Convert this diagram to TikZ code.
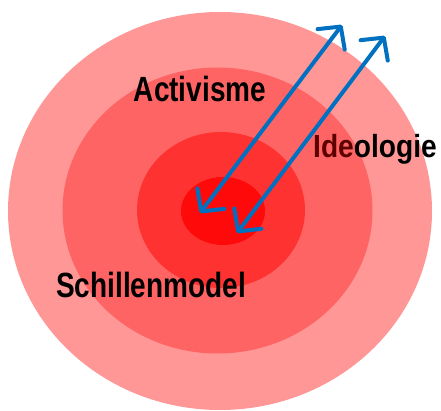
\documentclass[tikz,border=0pt]{standalone}
\usepackage{fontspec}
\setmainfont{Liberation Sans}
\usetikzlibrary{arrows.meta}
\definecolor{ring1}{HTML}{FF9797}
\definecolor{ring2}{HTML}{FF6464}
\definecolor{ring3}{HTML}{FF3232}
\definecolor{ring4}{HTML}{FF0A0A}
\definecolor{pijl}{HTML}{0070C0}
\definecolor{donkerrood}{HTML}{5C0000}
\tikzset{
	schiltekst/.style={font=\bfseries\fontsize{#1}{#1}\selectfont, text=black, anchor=base, inner sep=0pt},
	pijlen/.style={draw=pijl, line width=4pt, line cap=round, {Straight Barb[length=16pt,width=34pt,round]}-{Straight Barb[length=16pt,width=34pt,round]}}
}
\begin{document}
\begin{tikzpicture}[x=1pt,y=-1pt]
	\useasboundingbox (0,0) rectangle (441,411);
	\fill[ring1] (220,211) ellipse (212 and 199);
	\fill[ring2] (217.5,210.5) ellipse (155 and 143);
	\fill[ring3] (221,210) ellipse (84 and 78);
	\fill[ring4] (223,211) ellipse (42 and 34);
	\coordinate (A1) at (200,213);
	\coordinate (B1) at (342,25);
	\coordinate (A2) at (237,233);
	\coordinate (B2) at (385,36);
	\draw[pijlen] (A1) -- (B1);
	\draw[pijlen] (A2) -- (B2);
	\node[schiltekst=35, xscale=0.8] (activisme) at (200,102) {Activisme};
	\node[schiltekst=32, xscale=0.88] (ideologie) at (375,158) {\color{donkerrood}Ide\color{black}ologie};
	\node[schiltekst=35, xscale=0.8] (schillen) at (151,297) {Schillenmodel};
\end{tikzpicture}
\end{document}
